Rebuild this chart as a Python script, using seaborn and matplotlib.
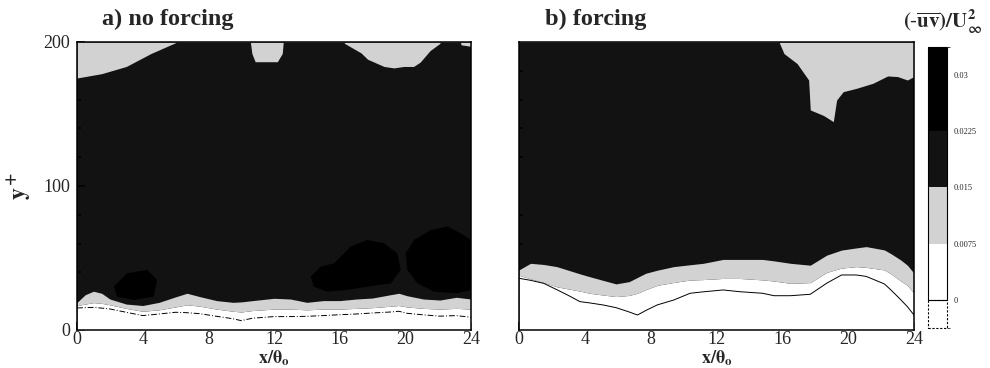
import numpy as np
import matplotlib
matplotlib.use('Agg')
import matplotlib.pyplot as plt
import matplotlib.colors as mcolors
import matplotlib.colorbar as mcolorbar
from matplotlib.patches import Rectangle
from matplotlib.ticker import MultipleLocator
import seaborn as sns

sns.set_style('ticks')
plt.rcParams['font.family'] = ['Liberation Serif', 'DejaVu Serif']
plt.rcParams['mathtext.fontset'] = 'stix'

# contour levels of (-uv)/U^2 and fill colours (below 0 ... above 0.03)
levels = [0, 0.0075, 0.015, 0.0225, 0.03]
level_labels = ['0', '0.0075', '0.015', '0.0225', '0.03']
light = '#d2d2d2'
dark = '#121212'
fill_colors = ['white', 'white', light, dark, 'black', 'black']

# ---- a) no forcing: contour heights y+ read along x/theta
xa = [0, 0.5, 1, 1.5, 2, 3, 4, 5, 6, 6.7, 7.5, 8.5, 9.5, 10, 10.7, 12, 13, 14, 15,
      16, 17, 18, 19.1, 19.6, 20.1, 21.1, 22.1, 23.1, 24]
a_015 = [19.2, 24.5, 26.9, 25.5, 21.5, 18, 17, 19.2, 23, 25.5, 23.1, 20.4, 19.2, 19.5, 20.4,
         22, 21.5, 19.2, 20.4, 20.4, 21.5, 22.2, 24.5, 25.5, 23.8, 21.5, 20.8, 22.7, 21.5]
a_0075 = [17, 18, 19, 18.5, 17.5, 15, 13, 14, 16, 17.5, 16.5, 14.5, 13, 12.5, 13.5,
          14.5, 14.5, 14, 14.5, 14.5, 15, 15.5, 16.5, 17, 16, 15, 14.5, 15, 14.5]
a_line = [15.3, 15.5, 15.7, 15.2, 14.6, 12.3, 10, 11.1, 12.3, 12, 11.3, 9.5, 7.8, 6.5, 8.2,
          9.3, 9.3, 9.5, 10, 10.6, 11.1, 11.8, 12.5, 13, 11.6, 10.5, 9.6, 10, 8.8]
# lower edge of the light patches along the top
xa_top = [0, 1.5, 3, 4.5, 5.5, 6.1, 6.2, 10.5, 10.65, 10.85, 12.2, 12.5, 12.6, 16.0, 16.3,
          17.3, 17.7, 18.7, 19.3, 19.9, 20.5, 20.9, 21.5, 22.1, 22.3, 23.2, 23.4, 24]
a_top = [175, 178, 183, 192, 197, 200, 205, 205, 192, 186.3, 186.3, 192, 205, 205, 199,
         192.4, 188, 183, 182, 183, 183, 186, 194, 199, 205, 205, 198, 197]
# darkest (> 0.0225) blobs
a_blobs = [
    ([14.23, 14.84, 15.65, 16.67, 17.68, 18.70, 19.51, 19.72, 19.11, 17.68, 16.46, 15.24, 14.43],
     [37.0, 44.0, 46.3, 57.9, 62.5, 60.2, 53.2, 41.7, 32.4, 30.1, 27.8, 26.6, 30.1]),
    ([20.02, 20.53, 21.54, 22.56, 23.37, 24.0, 24.0, 23.17, 21.75, 20.73, 20.12],
     [53.2, 62.5, 69.4, 71.8, 67.1, 62.5, 27.8, 25.5, 26.6, 32.4, 41.7]),
    ([2.24, 3.05, 4.27, 4.88, 4.67, 3.46, 2.44],
     [30.1, 39.4, 41.7, 34.7, 23.1, 20.8, 23.1]),
]

# ---- b) forcing
xb = [0, 0.7, 1.5, 2.3, 3, 3.7, 4.3, 5.1, 5.9, 6.7, 7.2, 7.7, 8.4, 9.4, 10.4, 11.2, 12.4,
      13.4, 14.8, 15.5, 16.5, 17.7, 18.7, 19.6, 20.5, 21.1, 22.2, 22.6, 23.2, 23.6, 24]
b_015 = [41.7, 46.3, 45.5, 44, 41.5, 39, 37, 34.5, 32, 33.6, 36.5, 39.4, 41.5, 44, 45.3, 46.3,
         49, 49, 49, 48, 46.3, 45, 52, 55.5, 57, 57.9, 55.6, 53, 48.6, 45, 39.4]
b_0075 = [38, 35.5, 33, 30, 28.5, 27, 25.5, 24.3, 23.2, 24, 25.5, 28, 31, 33, 34.7, 35,
          35.8, 35.8, 34.8, 34, 32.4, 32.9, 40, 43, 44, 43.5, 41.7, 39, 34, 31, 25.5]
b_line = [35.9, 34.5, 32.4, 28, 24, 19.7, 18.8, 17.4, 15.5, 12.5, 10.4, 13.5, 17.4, 20.8, 25.5,
          26.5, 27.8, 26.6, 25.5, 23.8, 23.8, 24.8, 32.5, 38.2, 38.2, 37.2, 32, 27.8, 21, 16.2, 10.4]
xb_top = [0, 15.7, 15.8, 16.1, 16.9, 17.6, 17.7, 18.5, 19.1, 19.3, 19.7, 20.5, 21.5, 22.4,
          23.0, 23.6, 24]
b_top = [205, 205, 200, 192, 185, 173.6, 152.8, 149, 144.7, 159.7, 165.5, 167.8, 171.3,
         176.4, 176, 173.6, 176]


def draw_panel(ax, x, lvl1, lvl2, line, x_top, top, blobs, ls):
    ax.set_facecolor(dark)
    ax.fill_between(x, 0, lvl1, color='white', lw=0)
    ax.fill_between(x, lvl1, lvl2, color=light, lw=0)
    ax.fill_between(x_top, top, 200, color=light, lw=0)
    for bx, by in blobs:
        ax.fill(bx, by, color='black', lw=0)
    sns.lineplot(x=x, y=line, ax=ax, color='black', lw=0.7, linestyle=ls,
                 estimator=None, sort=False)
    ax.set_xlim(0, 24)
    ax.set_ylim(0, 200)
    ax.set_xticks([0, 4, 8, 12, 16, 20, 24])
    ax.xaxis.set_minor_locator(MultipleLocator(1))
    ax.yaxis.set_minor_locator(MultipleLocator(20))
    ax.tick_params(which='both', direction='in', top=False, right=False,
                   labelsize=13, width=1.1, color='black')
    ax.tick_params(which='major', length=6, pad=1)
    ax.tick_params(which='minor', length=3)
    ax.tick_params(axis='y', pad=5)
    for s in ax.spines.values():
        s.set_linewidth(1.1)
        s.set_color('black')
    ax.set_xlabel(r'$\mathbf{x/\theta_o}$', fontsize=13)
    ax.xaxis.set_label_coords(0.5, -0.064)


fig = plt.figure(figsize=(9.9, 3.68), dpi=100)
ax_a = fig.add_axes([0.0778, 0.1033, 0.398, 0.7826])
ax_b = fig.add_axes([0.5242, 0.1033, 0.399, 0.7826])

draw_panel(ax_a, xa, a_0075, a_015, a_line, xa_top, a_top, a_blobs, (0, (6, 2, 1, 2)))
draw_panel(ax_b, xb, b_0075, b_015, b_line, xb_top, b_top, [], '-')
ax_a.set_yticks([0, 100, 200])
ax_b.set_yticks([0, 100, 200])
ax_b.set_yticklabels([])
ax_b.tick_params(axis='y', which='major', length=0)
ax_a.set_ylabel('')
ax_b.set_ylabel('')

fig.text(0.103, 0.946, 'a) no forcing', fontsize=17.5, fontweight='bold', va='center')
fig.text(0.5505, 0.946, 'b) forcing', fontsize=17.5, fontweight='bold', va='center')
fig.text(0.02, 0.495, r'$\mathbf{y^+}$', fontsize=17, rotation=90, ha='center', va='center')

# colour legend
cax = fig.add_axes([0.9374, 0.108, 0.0187, 0.765])
bounds = [levels[0] - 0.00375] + levels + [levels[-1] + 0.00375]
cmap = mcolors.ListedColormap(fill_colors)
norm = mcolors.BoundaryNorm(bounds, cmap.N)
cb = mcolorbar.ColorbarBase(cax, cmap=cmap, norm=norm, boundaries=bounds,
                            ticks=levels, spacing='proportional')
cb.set_ticklabels(level_labels)
cb.outline.set_visible(False)
cax.add_patch(Rectangle((0, 0), 1, bounds[-1], fill=False, ec='black', lw=0.8,
                        transform=cax.transData, clip_on=False))
cax.add_patch(Rectangle((0, bounds[0]), 1, -bounds[0], fill=False, ec='black', lw=0.8,
                        ls=(0, (2, 1.5)), transform=cax.transData, clip_on=False))
cax.tick_params(length=0, labelsize=6, pad=5)
fig.text(0.952, 0.94, r'$\mathbf{(\text{-}\overline{uv})/U_\infty^2}$', fontsize=15,
         ha='center', va='center')

fig.savefig('out.png', dpi=100)
